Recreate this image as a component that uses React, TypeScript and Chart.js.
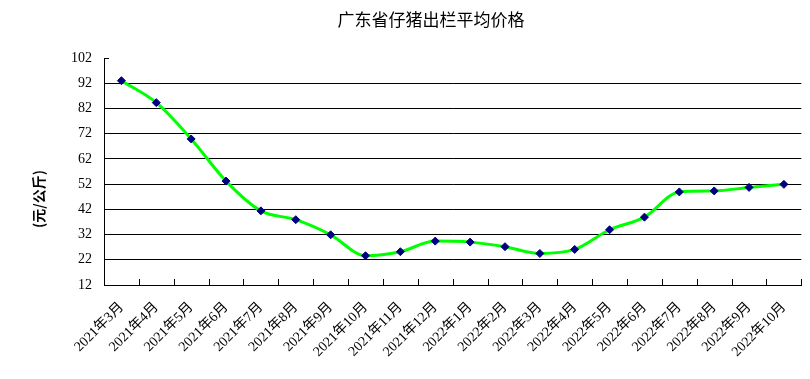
import React, { useEffect, useRef } from "react";
import { Chart, registerables } from "chart.js";

Chart.register(...registerables);

const title = "广东省仔猪出栏平均价格";
const yAxisTitle = "(元/公斤)";
const categories = [
  "2021年3月", "2021年4月", "2021年5月", "2021年6月", "2021年7月", "2021年8月",
  "2021年9月", "2021年10月", "2021年11月", "2021年12月", "2022年1月", "2022年2月",
  "2022年3月", "2022年4月", "2022年5月", "2022年6月", "2022年7月", "2022年8月",
  "2022年9月", "2022年10月",
];
const prices = [
  93.0, 84.3, 69.9, 53.2, 41.4, 37.9, 31.9, 23.6, 25.2, 29.4,
  29.0, 27.2, 24.5, 26.1, 33.9, 38.9, 48.9, 49.3, 50.7, 51.9,
];
const yMin = 12;
const yMax = 102;
const yStep = 10;

const FONT = "'Liberation Serif', 'Noto Sans CJK SC', serif";

const decorPlugin = {
  id: "decor",
  afterDraw(chart: any) {
    const ctx = chart.ctx;
    const area = chart.chartArea;
    const y = chart.scales.y;
    ctx.save();
    ctx.strokeStyle = "#000";
    ctx.lineWidth = 1;
    // x inward ticks at category boundaries
    const n = categories.length;
    const w = (area.right - area.left) / n;
    for (let i = 1; i <= n; i++) {
      const px = Math.round(area.left + i * w) + 0.5;
      ctx.beginPath();
      ctx.moveTo(px, area.bottom);
      ctx.lineTo(px, area.bottom - 6);
      ctx.stroke();
    }
    // y inward tick at top
    const ty = Math.round(y.getPixelForValue(yMax)) + 0.5;
    ctx.beginPath();
    ctx.moveTo(area.left, ty);
    ctx.lineTo(area.left + 5, ty);
    ctx.stroke();
    // title
    ctx.fillStyle = "#000";
    ctx.font = "17px 'Noto Sans CJK SC', sans-serif";
    ctx.textAlign = "center";
    ctx.textBaseline = "middle";
    ctx.fillText(title, 431, 20);
    // y axis title
    ctx.translate(39, 199);
    ctx.rotate(-Math.PI / 2);
    ctx.font = "bold 14px 'Noto Sans CJK SC', sans-serif";
    ctx.fillText(yAxisTitle, 0, 0);
    ctx.restore();
  },
};

export default function App() {
  const ref = useRef<HTMLCanvasElement | null>(null);
  useEffect(() => {
    if (!ref.current) return;
    const chart = new Chart(ref.current, {
      type: "line",
      data: {
        labels: categories,
        datasets: [
          {
            data: prices,
            borderColor: "#00ff00",
            borderWidth: 3,
            tension: 0.4,
            cubicInterpolationMode: "monotone",
            pointStyle: "rectRot",
            pointRadius: 4,
            pointBackgroundColor: "#000080",
            pointBorderColor: "#000080",
            pointBorderWidth: 1,
            fill: false,
          },
        ],
      },
      options: {
        responsive: false,
        animation: false,
        layout: { padding: { top: 58, right: 8, left: 0, bottom: 0 } },
        plugins: {
          legend: { display: false },
          title: { display: false },
          tooltip: { enabled: false },
        },
        scales: {
          x: {
            type: "category",
            offset: true,
            grid: { display: false, drawTicks: false },
            border: { display: true, color: "#000", width: 1 },
            ticks: {
              autoSkip: false,
              maxRotation: 45,
              minRotation: 45,
              padding: 14,
              color: "#000",
              font: { family: FONT, size: 14 },
            },
            afterFit(scale: any) {
              scale.height = 94;
            },
          },
          y: {
            min: yMin,
            max: yMax,
            grid: {
              drawTicks: false,
              color: (c: any) => (c.tick && c.tick.value === yMax ? "rgba(0,0,0,0)" : "#000"),
              lineWidth: 1,
            },
            border: { display: true, color: "#000", width: 1 },
            ticks: {
              stepSize: yStep,
              padding: 12,
              color: "#000",
              font: { family: FONT, size: 14 },
            },
            afterFit(scale: any) {
              scale.width = 104;
            },
          },
        },
      },
      plugins: [decorPlugin],
    } as any);
    return () => chart.destroy();
  }, []);
  return (
    <div style={{ position: "fixed", left: 0, top: 0, width: 810, height: 379, background: "#fff" }}>
      <canvas ref={ref} width={810} height={379} />
    </div>
  );
}
